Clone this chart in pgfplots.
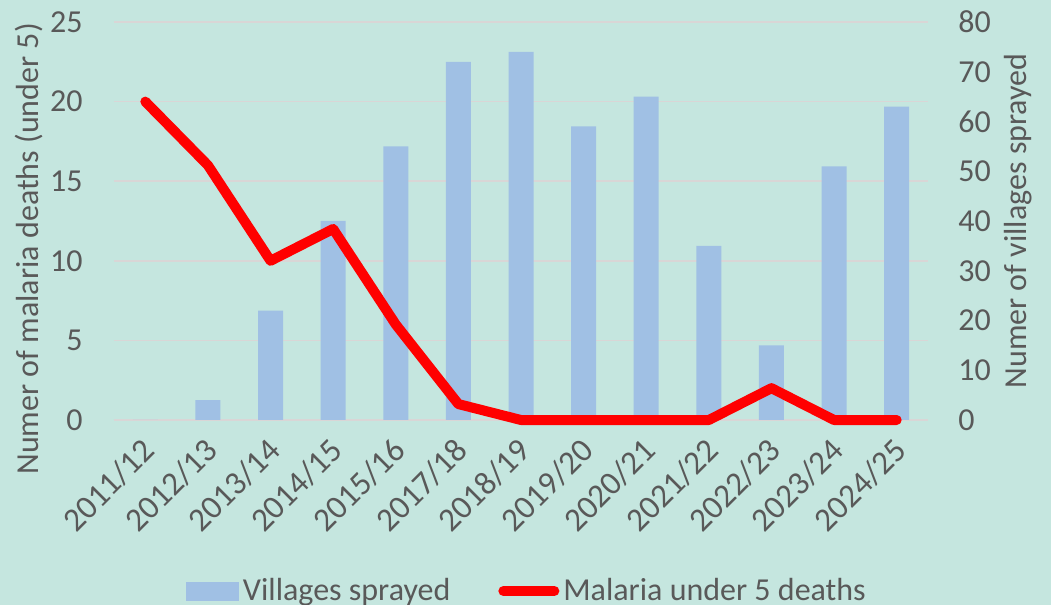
\documentclass[border=0pt]{standalone}
\usepackage{pgfplots}
\pgfplotsset{compat=1.18}
\usepackage{fontspec}
\setmainfont{Carlito}
\definecolor{bg}{RGB}{197,230,223}
\definecolor{barc}{RGB}{160,192,228}
\definecolor{txt}{RGB}{89,89,89}
\definecolor{gridc}{RGB}{217,214,214}
\pgfplotstableread{
x villages deaths
0 0 20
1 4 16
2 22 10
3 40 12
4 55 6
5 72 1
6 74 0
7 59 0
8 65 0
9 35 0
10 15 2
11 51 0
12 63 0
}\datatable
\begin{document}
\begin{tikzpicture}
\fill[bg] (-57pt,-92.5pt) rectangle (468.5pt,210pt);
\pgfplotsset{
  every axis/.append style={
    scale only axis, width=407pt, height=199pt,
    at={(0,0)}, anchor=south west,
    xmin=-0.5, xmax=12.5,
    font=\fontsize{16}{19}\selectfont,
    tick label style={font=\fontsize{16}{19}\selectfont, text=txt},
    major tick length=0pt,
    /pgf/number format/assume math mode=true,
  }
}
% grid axis with left ticks and x labels
\begin{axis}[
  ymin=0, ymax=25,
  ytick={0,5,...,25},
  axis y line*=left,
  axis x line*=bottom,
  y axis line style={draw=none},
  x axis line style={draw=gridc, line width=0.8pt},
  ymajorgrids, grid style={draw=gridc, line width=0.8pt},
  xtick={0,...,12},
  xticklabels={2011/12,2012/13,2013/14,2014/15,2015/16,2017/18,2018/19,2019/20,2020/21,2021/22,2022/23,2023/24,2024/25},
  xticklabel style={inner sep=0pt, xshift=2pt, yshift=-12.5pt, rotate=45, anchor=east,
    font=\fontsize{16.6}{19}\selectfont},
  yticklabel style={inner sep=0pt, xshift=-15.5pt, anchor=east},
  ylabel={Numer of malaria deaths (under 5)},
  every axis y label/.style={at={(rel axis cs:0,0.43)}, rotate=90, anchor=center, yshift=42.5pt,
    font=\fontsize{16}{19}\selectfont, text=txt},
]
\addplot[draw=none] coordinates {(0,0)};
\end{axis}
% bars on right axis
\begin{axis}[
  ymin=0, ymax=80,
  ytick={0,10,...,80},
  axis y line*=right,
  axis x line=none,
  y axis line style={draw=none},
  yticklabel style={inner sep=0pt, xshift=15pt, anchor=west},
  ylabel={Numer of villages sprayed},
  every axis y label/.style={at={(rel axis cs:1,0.5)}, rotate=90, anchor=center, yshift=-45pt,
    font=\fontsize{16}{19}\selectfont, text=txt},
]
\addplot[ybar, bar width=12.5pt, fill=barc, draw=none] table[x=x, y=villages] {\datatable};
\end{axis}
% line
\begin{axis}[
  ymin=0, ymax=25,
  hide axis, clip=false,
  legend style={at={(0.5,0)}, anchor=center, xshift=3.5pt, yshift=-85.5pt, draw=none, fill=none,
    font=\fontsize{16}{19}\selectfont, text=txt, legend columns=2,
    /tikz/every even column/.append style={column sep=22pt}},
]
\addlegendimage{legend image code/.code={\fill[barc] (0pt,-4.5pt) rectangle (26pt,4.5pt);}}
\addlegendentry{Villages sprayed}
\addplot[red, line width=5pt, line cap=round, line join=round,
  legend image code/.code={\draw[red, line width=5pt, line cap=round] (2.5pt,0pt) -- (28pt,0pt);}]
  table[x=x, y=deaths] {\datatable};
\addlegendentry{Malaria under 5 deaths}
\end{axis}
\pgfresetboundingbox
\useasboundingbox (-57pt,-92.5pt) rectangle (468.5pt,210pt);
\end{tikzpicture}
\end{document}
